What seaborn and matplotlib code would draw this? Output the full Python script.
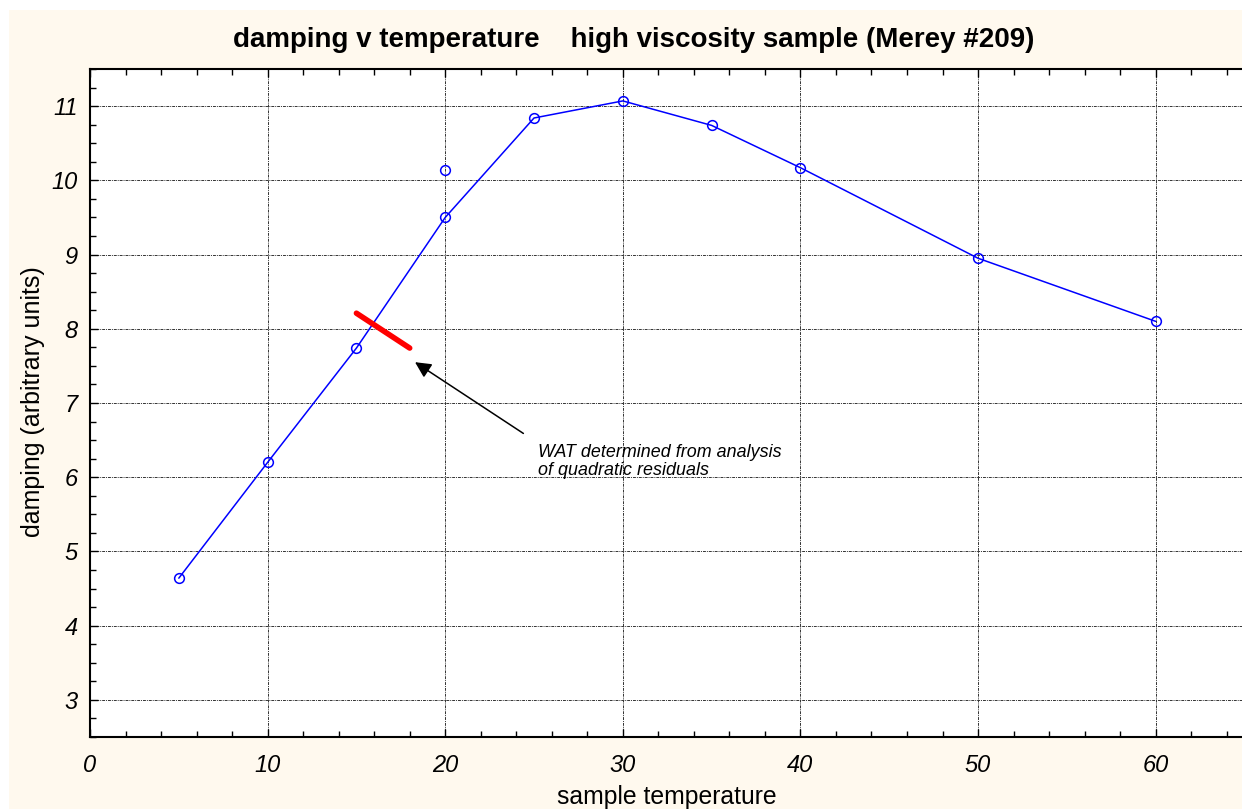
import matplotlib
matplotlib.use("Agg")
import matplotlib.pyplot as plt
import seaborn as sns
import pandas as pd
from matplotlib.ticker import MultipleLocator
from matplotlib.patches import Rectangle

# ---- data ----
temperature = [5, 10, 15, 20, 25, 30, 35, 40, 50, 60]
damping = [4.64, 6.20, 7.74, 9.50, 10.84, 11.07, 10.74, 10.17, 8.95, 8.10]
extra_temperature = [20]
extra_damping = [10.14]
wat_x = [15.0, 18.0]
wat_y = [8.21, 7.74]
title = "damping v temperature    high viscosity sample (Merey #209)"
xlabel = "sample temperature"
ylabel = "damping (arbitrary units)"
note = "WAT determined from analysis\nof quadratic residuals"

sns.set_style("white")
plt.rcParams['font.family'] = ['Liberation Sans', 'DejaVu Sans']
plt.rcParams['text.color'] = 'black'
plt.rcParams['xtick.color'] = 'black'
plt.rcParams['ytick.color'] = 'black'
plt.rcParams['xtick.labelcolor'] = 'black'
plt.rcParams['ytick.labelcolor'] = 'black'

fig = plt.figure(figsize=(12.42, 8.09), dpi=100)
fig.patch.set_facecolor('white')
fig.patches.append(Rectangle((9/1242, 0), 1 - 9/1242, 1 - 10/809,
                             transform=fig.transFigure, facecolor='#FFF9EE',
                             edgecolor='none', zorder=-10))

ax = fig.add_axes([90/1242, 1 - 737/809, 1 - 90/1242 + 0.002, (737 - 69)/809])
ax.set_facecolor('white')

df = pd.DataFrame({'t': temperature, 'd': damping})
sns.lineplot(data=df, x='t', y='d', ax=ax, color='#0000FF', linewidth=1.1,
             marker='o', markersize=7, markerfacecolor='none',
             markeredgecolor='#0000FF', markeredgewidth=1.1, zorder=3)
ax.plot(extra_temperature, extra_damping, linestyle='none', marker='o',
        markersize=7, markerfacecolor='none', markeredgecolor='#0000FF',
        markeredgewidth=1.1, zorder=3)

ax.plot(wat_x, wat_y, color='#FF0000', linewidth=4, solid_capstyle='round', zorder=4)

ax.annotate('', xy=(18.3, 7.55), xytext=(24.4, 6.59),
            arrowprops=dict(arrowstyle='-|>', color='black', lw=1.1,
                            mutation_scale=24, shrinkA=0, shrinkB=0))
ax.text(25.2, 6.45, note, fontsize=12.9, style='italic', va='top', ha='left',
        linespacing=1.08, color='black')

ax.set_xlim(0, 65)
ax.set_ylim(2.5, 11.5)
ax.xaxis.set_major_locator(MultipleLocator(10))
ax.xaxis.set_minor_locator(MultipleLocator(2))
ax.yaxis.set_major_locator(MultipleLocator(1))
ax.yaxis.set_minor_locator(MultipleLocator(0.25))
ax.set_yticks([3, 4, 5, 6, 7, 8, 9, 10, 11])

ax.grid(True, which='major', color='#333333', linestyle=(0, (3, 1, 1, 1)), linewidth=0.7)
ax.tick_params(which='both', direction='in', top=True, bottom=True, left=True, right=False,
               length=4, width=1, color='black', labelcolor='black')
ax.tick_params(which='major', length=6, labelsize=17)
ax.tick_params(axis='x', which='major', pad=12)
ax.tick_params(axis='y', which='major', pad=9)
for lbl in ax.get_xticklabels() + ax.get_yticklabels():
    lbl.set_fontstyle('italic')

for s in ['left', 'bottom', 'top']:
    ax.spines[s].set_color('black')
    ax.spines[s].set_linewidth(1.5)
ax.spines['right'].set_visible(False)

ax.set_xlabel('')
ax.set_ylabel('')
fig.text(667/1242, 1 - 797/809, xlabel, fontsize=17.8, ha='center', va='center', color='black')
fig.text(33/1242, 1 - 402/809, ylabel, fontsize=18, ha='center', va='center', rotation=90,
         color='black')
fig.text(634/1242, 1 - 40/809, title, fontsize=20, fontweight='bold', ha='center', va='center',
         color='black')

fig.savefig('out.png', dpi=100, facecolor=fig.get_facecolor())
